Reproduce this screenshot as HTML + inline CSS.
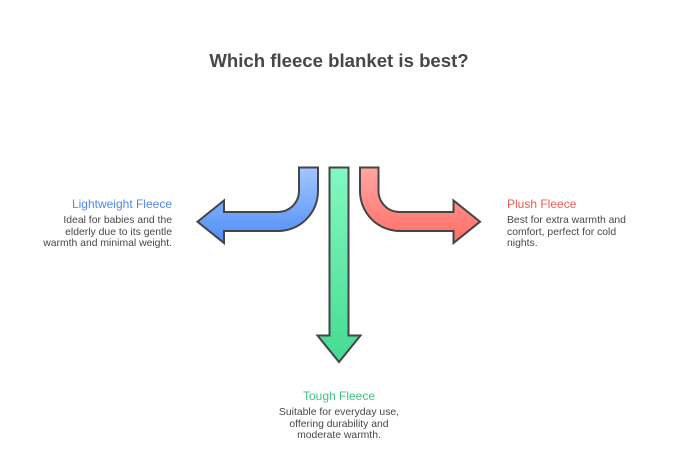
<!DOCTYPE html>
<html><head><meta charset="utf-8"><style>
html,body{margin:0;padding:0;background:#fff;}
body{width:678px;height:451px;position:relative;overflow:hidden;font-family:"Liberation Sans",Arial,sans-serif;}
.t{position:absolute;font-size:12px;line-height:14px;white-space:nowrap;}
.b{position:absolute;font-size:10.4px;line-height:11.5px;color:#484848;white-space:nowrap;}
</style></head><body>
<svg width="678" height="451" style="position:absolute;left:0;top:0">
<defs>
<linearGradient id="gb" x1="0" y1="0" x2="0" y2="1"><stop offset="0" stop-color="#a3c6ff"/><stop offset="1" stop-color="#4f8df6"/></linearGradient>
<linearGradient id="gg" x1="0" y1="0" x2="0" y2="1"><stop offset="0" stop-color="#82f8c2"/><stop offset="1" stop-color="#45db92"/></linearGradient>
<linearGradient id="gr" x1="0" y1="0" x2="0" y2="1"><stop offset="0" stop-color="#ffa6a2"/><stop offset="1" stop-color="#ff6e66"/></linearGradient>
</defs>
<text x="339" y="67" text-anchor="middle" font-family="Liberation Sans, Arial, sans-serif" font-weight="bold" font-size="18.6" fill="#474747">Which fleece blanket is best?</text>
<path d="M299,167.5 L318,167.5 L318,191 A40,40 0 0 1 278,231 L224,231 L224,243 L197.5,221.7 L224,200.5 L224,212 L278,212 A21,21 0 0 0 299,191 Z" fill="url(#gb)" stroke="#454545" stroke-width="2" stroke-linejoin="miter"/>
<path d="M329.5,167.5 L348.5,167.5 L348.5,335.5 L360.5,335.5 L339,362 L317.5,335.5 L329.5,335.5 Z" fill="url(#gg)" stroke="#454545" stroke-width="2"/>
<path d="M378.5,167.5 L360,167.5 L360,191 A40,40 0 0 0 400,231 L453.5,231 L453.5,243 L480,221.7 L453.5,200.5 L453.5,212 L400,212 A21,21 0 0 1 378.5,191 Z" fill="url(#gr)" stroke="#454545" stroke-width="2"/>
</svg>
<div class="t" style="right:506px;top:197px;color:#4f88ee;text-align:right">Lightweight Fleece</div>
<div class="b" style="right:506px;top:215px;text-align:right">Ideal for babies and the<br>elderly due to its gentle<br>warmth and minimal weight.</div>
<div class="t" style="left:507px;top:197px;color:#f05a55">Plush Fleece</div>
<div class="b" style="left:507px;top:215px">Best for extra warmth and<br>comfort, perfect for cold<br>nights.</div>
<div class="t" style="left:239px;width:200px;top:389px;color:#3fc47f;text-align:center">Tough Fleece</div>
<div class="b" style="left:239px;width:200px;top:407px;text-align:center">Suitable for everyday use,<br>offering durability and<br>moderate warmth.</div>
</body></html>
